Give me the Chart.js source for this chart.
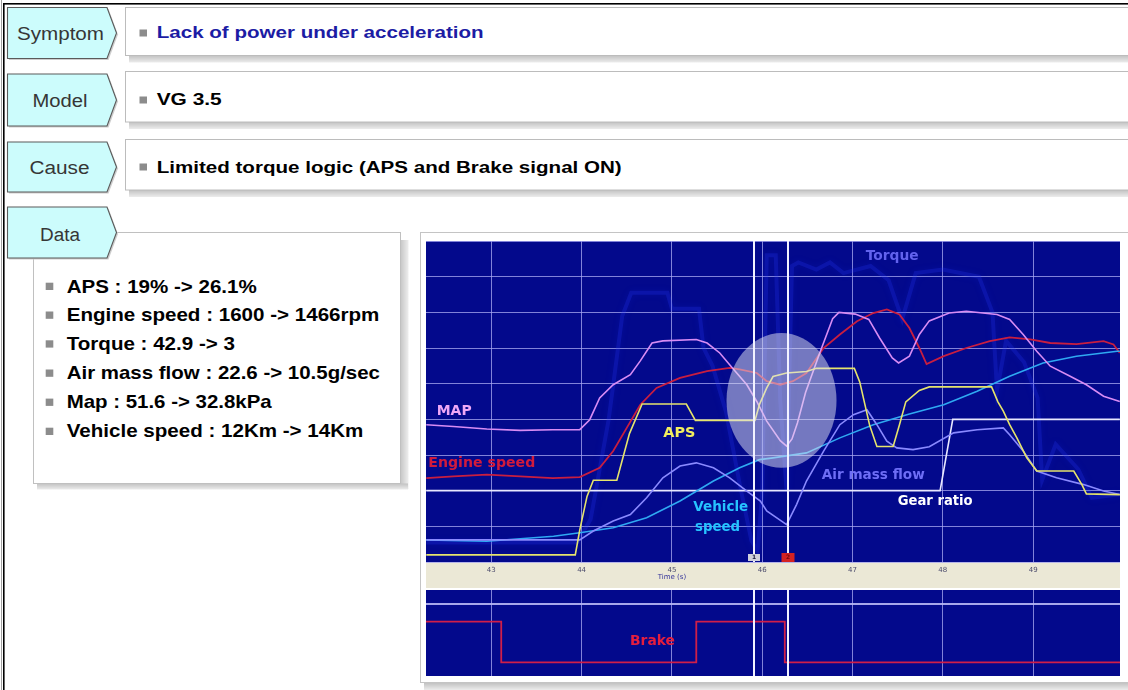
<!DOCTYPE html>
<html>
<head>
<meta charset="utf-8">
<title>Lack of power under acceleration – VG 3.5</title>
<script src="https://cdn.jsdelivr.net/npm/chart.js@4.4.1/dist/chart.umd.min.js"></script>
<style>
  html, body { margin: 0; padding: 0; background: #fff; }
  #page { position: relative; width: 1128px; height: 690px; overflow: hidden; background: #fff;
          font-family: "Liberation Sans", Arial, sans-serif; }
  svg.slide { position: absolute; left: 0; top: 0; }
  #mainWrap  { position: absolute; left: 426px; top: 241px; width: 694px; height: 347px; }
  #brakeWrap { position: absolute; left: 426px; top: 590px; width: 694px; height: 86px; }
  canvas { display: block; }
</style>
</head>
<body>
<div id="page">
<svg class="slide" width="1128" height="690" xmlns="http://www.w3.org/2000/svg">
  <defs>
    <linearGradient id="shadeV" x1="0" y1="0" x2="0" y2="1">
      <stop offset="0" stop-color="#c2c2c2"/>
      <stop offset="1" stop-color="#ececec"/>
    </linearGradient>
    <linearGradient id="shadeH" x1="0" y1="0" x2="1" y2="0">
      <stop offset="0" stop-color="#c6c6c6"/>
      <stop offset="1" stop-color="#eeeeee"/>
    </linearGradient>
  </defs>

  <!-- slide frame -->
  <line x1="1.5" y1="0" x2="1.5" y2="690" stroke="#a0a0a0" stroke-width="1"/>
  <rect x="3.8" y="3.8" width="1200" height="800" fill="none" stroke="#000" stroke-width="1.6"/>

  <!-- row boxes -->
  <rect x="129" y="55.5" width="1010" height="7" fill="url(#shadeV)"/>
  <rect x="125.5" y="7.5" width="1010" height="48" fill="#fff" stroke="#bcbcbc"/>
  <rect x="129" y="122" width="1010" height="7" fill="url(#shadeV)"/>
  <rect x="125.5" y="71.5" width="1010" height="50.5" fill="#fff" stroke="#bcbcbc"/>
  <rect x="129" y="190" width="1010" height="7" fill="url(#shadeV)"/>
  <rect x="125.5" y="139.5" width="1010" height="50.5" fill="#fff" stroke="#bcbcbc"/>

  <!-- data box -->
  <rect x="400.5" y="240" width="8" height="249" fill="url(#shadeH)"/>
  <rect x="37" y="483.5" width="371" height="6" fill="url(#shadeV)"/>
  <rect x="33.5" y="232.5" width="367" height="251" fill="#fff" stroke="#c0c0c0"/>

  <!-- chart frame -->
  <rect x="424" y="683" width="716" height="7" fill="url(#shadeV)"/>
  <rect x="420.5" y="232.5" width="720" height="450" fill="#fff" stroke="#c4c4c4"/>

  <!-- tabs -->
  <g fill="#cdcdcd">
    <polygon points="9,9 108.5,9 118,34.5 108.5,60 9,60"/>
    <polygon points="9,75.5 108.5,75.5 118,101.5 108.5,127.5 9,127.5"/>
    <polygon points="9,143.5 108.5,143.5 118,168.5 108.5,193.5 9,193.5"/>
    <polygon points="9,208.5 108.5,208.5 118,234 108.5,259.5 9,259.5"/>
  </g>
  <g fill="#ccfcfc" stroke="#5a5a5a" stroke-width="1.1">
    <polygon points="7.5,7.5 107,7.5 116.5,33 107,58.5 7.5,58.5"/>
    <polygon points="7.5,74 107,74 116.5,100 107,126 7.5,126"/>
    <polygon points="7.5,142 107,142 116.5,167 107,192 7.5,192"/>
    <polygon points="7.5,207 107,207 116.5,232.5 107,258 7.5,258"/>
  </g>
  <g font-size="18" fill="#363636" text-anchor="middle">
    <text x="60.5" y="40" textLength="87" lengthAdjust="spacingAndGlyphs">Symptom</text>
    <text x="60" y="106.5" textLength="55" lengthAdjust="spacingAndGlyphs">Model</text>
    <text x="59.5" y="174" textLength="60" lengthAdjust="spacingAndGlyphs">Cause</text>
    <text x="60" y="240.5" textLength="40" lengthAdjust="spacingAndGlyphs">Data</text>
  </g>

  <!-- row contents -->
  <g fill="#8c8c8c">
    <rect x="139.5" y="29.5" width="7.5" height="7"/>
    <rect x="139.5" y="96.5" width="7.5" height="7"/>
    <rect x="139.5" y="163.5" width="7.5" height="7"/>
  </g>
  <g font-size="17.4" font-weight="bold">
    <text x="156.7" y="37.6" fill="#1c1ca4" textLength="327" lengthAdjust="spacingAndGlyphs">Lack of power under acceleration</text>
    <text x="156.7" y="105" fill="#000" textLength="65" lengthAdjust="spacingAndGlyphs">VG 3.5</text>
    <text x="156.7" y="172.7" fill="#000" textLength="465" lengthAdjust="spacingAndGlyphs">Limited torque logic (APS and Brake signal ON)</text>
  </g>

  <!-- data bullets -->
  <g fill="#8c8c8c">
    <rect x="45.7" y="282.7" width="7.6" height="7.3"/>
    <rect x="45.7" y="311.5" width="7.6" height="7.3"/>
    <rect x="45.7" y="340.3" width="7.6" height="7.3"/>
    <rect x="45.7" y="369.5" width="7.6" height="7.3"/>
    <rect x="45.7" y="398.6" width="7.6" height="7.3"/>
    <rect x="45.7" y="427.7" width="7.6" height="7.3"/>
  </g>
  <g font-size="17.7" font-weight="bold" fill="#000">
    <text x="66.7" y="292.7" textLength="190" lengthAdjust="spacingAndGlyphs">APS : 19% -&gt; 26.1%</text>
    <text x="66.7" y="321.2" textLength="312.7" lengthAdjust="spacingAndGlyphs">Engine speed : 1600 -&gt; 1466rpm</text>
    <text x="66.7" y="349.9" textLength="168.3" lengthAdjust="spacingAndGlyphs">Torque : 42.9 -&gt; 3</text>
    <text x="66.7" y="379" textLength="313.3" lengthAdjust="spacingAndGlyphs">Air mass flow : 22.6 -&gt; 10.5g/sec</text>
    <text x="66.7" y="408.3" textLength="205" lengthAdjust="spacingAndGlyphs">Map : 51.6 -&gt; 32.8kPa</text>
    <text x="66.7" y="437.4" textLength="296.7" lengthAdjust="spacingAndGlyphs">Vehicle speed : 12Km -&gt; 14Km</text>
  </g>
</svg>

<div id="mainWrap"><canvas id="mainChart" width="694" height="347"></canvas></div>
<div id="brakeWrap"><canvas id="brakeChart" width="694" height="86"></canvas></div>
</div>

<script>
// ---- time base (seconds) ----
const timeMin = 42.277;
const timeMax = 49.962;
const cursorTimes = [45.91, 46.29];

// ---- scope traces: [time s, screen division 0..9] ----
const mapTrace = [
  [42.28,3.85],[42.58,3.80],[42.95,3.73],[43.32,3.69],[43.68,3.71],[43.98,3.71],[44.09,3.99],
  [44.20,4.60],[44.35,4.97],[44.54,5.25],[44.65,5.64],[44.78,6.14],[44.90,6.20],[45.27,6.24],
  [45.39,6.14],[45.53,5.86],[45.67,5.44],[45.83,4.97],[45.94,4.50],[46.05,3.95],[46.20,3.40],
  [46.27,3.25],[46.33,3.45],[46.39,3.90],[46.48,4.75],[46.64,5.88],[46.78,6.82],[46.85,7.00],
  [47.03,6.95],[47.18,6.80],[47.30,6.28],[47.44,5.72],[47.51,5.58],[47.63,5.77],[47.74,6.38],
  [47.85,6.76],[48.07,6.98],[48.26,7.03],[48.60,6.94],[48.74,6.80],[48.89,6.38],[49.04,5.91],
  [49.19,5.49],[49.41,5.21],[49.59,4.97],[49.78,4.65],[49.96,4.50]
];
const engineSpeedTrace = [
  [42.28,2.35],[42.58,2.40],[42.95,2.45],[43.32,2.40],[43.68,2.35],[43.98,2.38],[44.20,2.64],
  [44.35,3.11],[44.50,3.76],[44.65,4.41],[44.83,4.88],[45.09,5.16],[45.39,5.35],[45.64,5.44],
  [45.75,5.40],[45.94,5.30],[46.05,5.07],[46.20,4.97],[46.34,5.07],[46.49,5.30],[46.68,6.00],
  [46.86,6.38],[47.05,6.75],[47.23,6.98],[47.38,7.08],[47.52,6.94],[47.63,6.56],[47.74,6.00],
  [47.82,5.55],[48.01,5.77],[48.26,6.00],[48.52,6.19],[48.74,6.30],[48.97,6.24],[49.19,6.14],
  [49.48,6.11],[49.78,6.19],[49.89,6.10],[49.96,5.86]
];
const apsTrace = [
  [42.28,0.20],[43.93,0.20],[43.98,0.90],[44.06,1.84],[44.13,2.29],[44.39,2.29],[44.53,3.60],
  [44.67,4.43],[45.16,4.43],[45.26,3.97],[45.92,3.97],[45.97,4.42],[46.05,4.88],[46.12,5.20],
  [46.27,5.30],[46.49,5.34],[46.60,5.43],[47.02,5.43],[47.08,5.05],[47.19,3.83],[47.27,3.24],
  [47.45,3.24],[47.52,3.85],[47.59,4.49],[47.74,4.81],[47.85,4.91],[48.54,4.91],[48.61,4.49],
  [48.67,4.23],[48.74,3.85],[48.82,3.48],[48.93,2.92],[49.04,2.55],[49.45,2.55],[49.54,2.17],
  [49.59,1.91],[49.96,1.89]
];
const airMassFlowTrace = [
  [42.28,0.62],[43.98,0.62],[44.13,0.87],[44.35,1.15],[44.54,1.33],[44.72,1.80],[44.90,2.36],
  [45.09,2.69],[45.27,2.78],[45.46,2.64],[45.64,2.36],[45.83,1.99],[45.98,1.71],[46.05,1.43],
  [46.27,1.05],[46.38,1.61],[46.49,2.27],[46.68,3.11],[46.86,3.85],[47.01,4.13],[47.16,4.27],
  [47.27,3.85],[47.38,3.39],[47.49,3.20],[47.67,3.15],[47.85,3.23],[48.12,3.62],[48.38,3.71],
  [48.67,3.76],[48.74,3.57],[48.89,3.11],[49.04,2.55],[49.26,2.36],[49.56,2.17],[49.78,1.99],
  [49.96,1.89]
];
const vehicleSpeedTrace = [
  [42.28,0.62],[42.95,0.58],[43.69,0.72],[43.98,0.82],[44.35,0.96],[44.72,1.24],[45.09,1.71],
  [45.46,2.27],[45.75,2.64],[45.97,2.87],[46.12,2.92],[46.49,3.06],[46.86,3.48],[47.23,3.85],
  [47.63,4.15],[48.01,4.41],[48.38,4.79],[48.74,5.21],[49.11,5.58],[49.48,5.77],[49.93,5.91],
  [49.96,5.91]
];
const gearRatioTrace = [
  [42.28,2.0],[47.97,2.0],[48.11,4.0],[49.96,4.0]
];
const torqueTrace = [
  [42.28,0.55],[43.95,0.55],[44.10,1.20],[44.30,4.00],[44.45,6.90],[44.55,7.55],[44.95,7.55],
  [45.00,7.10],[45.30,7.10],[45.35,6.00],[45.45,5.50],[45.60,4.20],[45.75,2.20],[45.88,0.60],
  [45.95,0.30],[46.00,2.00],[46.05,8.60],[46.15,8.60],[46.20,4.50],[46.27,2.00],[46.33,8.30],
  [46.40,8.40],[46.60,8.20],[46.75,8.40],[46.90,8.10],[47.20,8.30],[47.40,7.90],[47.55,6.80],
  [47.70,8.10],[48.00,8.20],[48.40,8.00],[48.55,7.00],[48.60,4.80],[48.70,6.20],[48.90,5.60],
  [49.05,4.60],[49.10,2.30],[49.25,3.30],[49.50,2.60],[49.65,1.80],[49.96,1.90]
];
// brake switch: 1 = ON, 0 = OFF (value holds until the next time)
const brakeTrace = [
  [42.277,1],[43.11,0],[45.27,1],[46.25,0],[49.962,0]
];
const brakeGridLevels = [1.44];

// ---- trace captions ----
const mainCaptions = [
  { text: 'MAP',           t: 42.395, v: 4.22, w: 35,  color: '#eea8f6' },
  { text: 'Engine speed',  t: 42.302, v: 2.77, w: 107, color: '#d21b3c' },
  { text: 'APS',           t: 44.905, v: 3.62, w: 32,  color: '#f2ee5e' },
  { text: 'Vehicle',       t: 45.541, v: 1.54, w: 55,  color: '#26c3ff', align: 'center' },
  { text: 'speed',         t: 45.505, v: 0.98, w: 45,  color: '#26c3ff', align: 'center' },
  { text: 'Air mass flow', t: 46.659, v: 2.44, w: 103, color: '#6e6ef6' },
  { text: 'Gear ratio',    t: 47.50,  v: 1.70, w: 75,  color: '#ffffff' },
  { text: 'Torque',        t: 47.146, v: 8.56, w: 53,  color: '#6262ee' }
];
const brakeCaptions = [
  { text: 'Brake', t: 44.536, v: 0.51, w: 45, color: '#e41e3e' }
];

const toXY = arr => arr.map(([x, y]) => ({ x, y }));

const SCOPE_BG = '#03098c';
const GRID = 'rgba(165,165,238,0.78)';

function drawFitted(ctx, text, x, y, width, align) {
  const m = ctx.measureText(text).width || 1;
  ctx.save();
  ctx.translate(x, y);
  ctx.scale(width / m, 1);
  ctx.textAlign = align || 'left';
  ctx.fillText(text, 0, 0);
  ctx.restore();
}

const scopePlugin = {
  id: 'scope',
  beforeDraw(chart, args, opts) {
    const { ctx, chartArea: a } = chart;
    ctx.save();
    if (opts.axisBand) {
      ctx.fillStyle = '#ebe8d6';
      ctx.fillRect(0, a.bottom, chart.width, chart.height - a.bottom);
    }
    ctx.fillStyle = SCOPE_BG;
    ctx.fillRect(a.left, a.top, a.right - a.left, a.bottom - a.top);
    ctx.restore();
  },
  beforeDatasetDraw(chart, args) {
    const ds = chart.data.datasets[args.index];
    if (ds.glow) {
      chart.ctx.save();
      chart.ctx.shadowColor = ds.glow;
      chart.ctx.shadowBlur = 7;
    }
  },
  afterDatasetDraw(chart, args) {
    if (chart.data.datasets[args.index].glow) chart.ctx.restore();
  },
  afterDatasetsDraw(chart, args, opts) {
    const { ctx, chartArea: a, scales: { x, y } } = chart;
    ctx.save();
    ctx.beginPath();
    ctx.rect(a.left, a.top, a.right - a.left, a.bottom - a.top);
    ctx.clip();

    // highlighted region
    if (opts.highlight) {
      const h = opts.highlight;
      const cx = x.getPixelForValue(h.t), cy = y.getPixelForValue(h.v);
      const rx = x.getPixelForValue(h.t + h.rt) - cx;
      const ry = cy - y.getPixelForValue(h.v + h.rv);
      ctx.fillStyle = 'rgba(220,222,240,0.52)';
      ctx.beginPath();
      ctx.ellipse(cx, cy, rx, ry, 0, 0, Math.PI * 2);
      ctx.fill();
    }

    // measurement cursors
    ctx.strokeStyle = '#f2f2ff';
    ctx.lineWidth = 2;
    cursorTimes.forEach(t => {
      const px = Math.round(x.getPixelForValue(t));
      ctx.beginPath();
      ctx.moveTo(px, a.top);
      ctx.lineTo(px, a.bottom);
      ctx.stroke();
    });

    // captions
    ctx.font = 'bold 14px "DejaVu Sans"';
    ctx.textBaseline = 'middle';
    (opts.captions || []).forEach(c => {
      ctx.fillStyle = c.color;
      drawFitted(ctx, c.text, x.getPixelForValue(c.t), y.getPixelForValue(c.v), c.w, c.align);
    });

    // cursor tags
    if (opts.cursorTags) {
      const p1 = Math.round(x.getPixelForValue(cursorTimes[0]));
      const p2 = Math.round(x.getPixelForValue(cursorTimes[1]));
      ctx.fillStyle = '#cfd0dc';
      ctx.fillRect(p1 - 6, a.bottom - 8, 12, 7);
      ctx.fillStyle = '#202040';
      ctx.font = 'bold 6px "DejaVu Sans"';
      ctx.textAlign = 'center';
      ctx.fillText('1', p1, a.bottom - 4.5);
      ctx.fillStyle = '#d42222';
      ctx.fillRect(p2 - 6.5, a.bottom - 9, 13, 9);
      ctx.fillStyle = '#7a0a0a';
      ctx.fillText('2', p2, a.bottom - 4.5);
    }
    ctx.restore();
  },
  afterDraw(chart, args, opts) {
    if (!opts.axisTitle) return;
    const { ctx, chartArea: a, scales: { x } } = chart;
    ctx.save();
    ctx.font = '7px "DejaVu Sans"';
    ctx.fillStyle = '#34349a';
    ctx.textAlign = 'center';
    ctx.textBaseline = 'middle';
    ctx.fillText(opts.axisTitle.text, x.getPixelForValue(opts.axisTitle.t), a.bottom + 15);
    ctx.restore();
  }
};

Chart.defaults.font.family = '"DejaVu Sans", sans-serif';

function line(label, trace, color, order, extra) {
  return Object.assign({
    label, data: toXY(trace), borderColor: color, borderWidth: 1.6,
    pointRadius: 0, tension: 0, fill: false, order
  }, extra || {});
}

new Chart(document.getElementById('mainChart'), {
  type: 'line',
  data: {
    datasets: [
      line('APS', apsTrace, '#e6e46c', 1),
      line('MAP', mapTrace, '#d88cf4', 2),
      line('Air mass flow', airMassFlowTrace, '#8a8aff', 2),
      line('Vehicle speed', vehicleSpeedTrace, '#2fa9f2', 2),
      line('Engine speed', engineSpeedTrace, '#c81e40', 3, { borderWidth: 1.8 }),
      line('Gear ratio', gearRatioTrace, '#e8e8ff', 4),
      line('Torque', torqueTrace, 'rgba(40,60,255,0.22)', 9, { borderWidth: 4, glow: 'rgba(30,55,255,0.55)' })
    ]
  },
  options: {
    responsive: false,
    animation: false,
    devicePixelRatio: 1,
    layout: { padding: 0 },
    plugins: {
      legend: { display: false },
      tooltip: { enabled: false },
      scope: {
        axisBand: true,
        captions: mainCaptions,
        cursorTags: true,
        highlight: { t: 46.214, v: 4.53, rt: 0.609, rv: 1.89 },
        axisTitle: { text: 'Time (s)', t: 45 }
      }
    },
    scales: {
      x: {
        type: 'linear', min: timeMin, max: timeMax,
        border: { display: false },
        grid: { color: GRID, lineWidth: 1, drawTicks: false },
        ticks: { stepSize: 1, includeBounds: false, autoSkip: false, maxRotation: 0,
                 padding: 4, color: '#4c4c6c', font: { size: 7 } },
        afterFit: s => { s.height = 26; }
      },
      y: {
        min: 0, max: 9,
        border: { display: false },
        grid: { color: GRID, lineWidth: 1, drawTicks: false },
        ticks: { display: false, stepSize: 1 },
        afterFit: s => { s.width = 0; }
      }
    }
  },
  plugins: [scopePlugin]
});

new Chart(document.getElementById('brakeChart'), {
  type: 'line',
  data: {
    datasets: [
      line('Brake', brakeTrace, '#d01f48', 1, { stepped: true, borderWidth: 1.8 })
    ]
  },
  options: {
    responsive: false,
    animation: false,
    devicePixelRatio: 1,
    layout: { padding: 0 },
    plugins: {
      legend: { display: false },
      tooltip: { enabled: false },
      scope: { captions: brakeCaptions }
    },
    scales: {
      x: {
        type: 'linear', min: timeMin, max: timeMax,
        border: { display: false },
        grid: { color: GRID, lineWidth: 1, drawTicks: false },
        ticks: { display: false, stepSize: 1, includeBounds: false },
        afterFit: s => { s.height = 0; }
      },
      y: {
        min: -0.337, max: 1.781,
        border: { display: false },
        grid: { color: 'rgba(185,185,245,0.9)', lineWidth: 2, drawTicks: false },
        ticks: { display: false },
        afterBuildTicks: s => { s.ticks = brakeGridLevels.map(v => ({ value: v })); },
        afterFit: s => { s.width = 0; }
      }
    }
  },
  plugins: [scopePlugin]
});
</script>
</body>
</html>
